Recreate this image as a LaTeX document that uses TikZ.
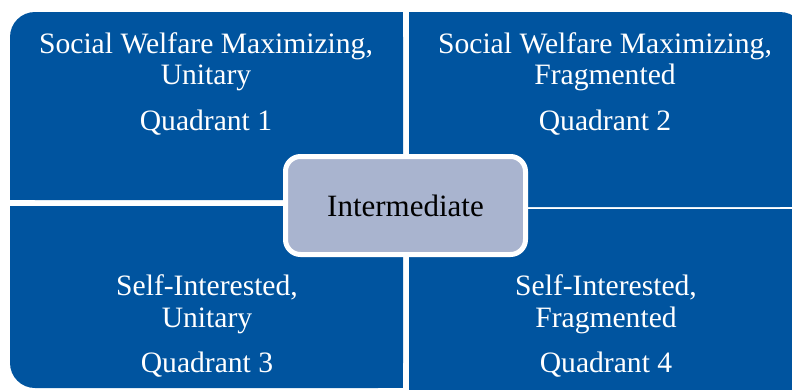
\documentclass[tikz,border=0pt]{standalone}
\usepackage{fontspec}
\setmainfont{Liberation Serif}
\definecolor{quadblue}{RGB}{0,84,159}
\definecolor{midfill}{RGB}{169,180,207}
\begin{document}
\begin{tikzpicture}[x=1pt,y=-1pt,
  quad/.style={fill=quadblue,draw=none,rounded corners=25pt},
  patch/.style={fill=quadblue,draw=none},
  qtext/.style={text=white,font=\fontsize{29.6}{31}\selectfont,align=center,anchor=base,inner sep=0pt},
  midbox/.style={fill=midfill,draw=white,line width=5pt,rounded corners=15pt,
    minimum width=240pt,minimum height=98pt,inner sep=0pt,font=\fontsize{31}{33}\selectfont,text=black}]
\useasboundingbox (0,0) rectangle (792,389);
\clip (0,0) rectangle (792,389);
% quadrant 1 (top-left corner rounded)
\path[quad] (10,12) rectangle (403,200);
\path[patch] (100,12) rectangle (403,200);
\path[patch] (10,100) rectangle (403,200);
% quadrant 2 (top-right corner rounded)
\path[quad] (409,12) rectangle (805,207);
\path[patch] (409,12) rectangle (700,207);
\path[patch] (409,100) rectangle (805,207);
% quadrant 3 (bottom-left corner rounded)
\path[quad] (10,206) rectangle (403,388);
\path[patch] (100,206) rectangle (403,388);
\path[patch] (10,206) rectangle (403,300);
% quadrant 4 (bottom-right corner rounded)
\path[quad] (409,209) rectangle (805,400);
\path[patch] (409,209) rectangle (700,400);
\path[patch] (409,209) rectangle (805,300);
% texts
\node[qtext] (q1a) at (206,53) {Social Welfare Maximizing,};
\node[qtext] (q1b) at (206,84) {Unitary};
\node[qtext] (q1c) at (206,130) {Quadrant 1};
\node[qtext] (q2a) at (605,53) {Social Welfare Maximizing,};
\node[qtext] (q2b) at (605,84) {Fragmented};
\node[qtext] (q2c) at (605,130) {Quadrant 2};
\node[qtext] (q3a) at (207,295) {Self-Interested,};
\node[qtext] (q3b) at (207,327) {Unitary};
\node[qtext] (q3c) at (207,372) {Quadrant 3};
\node[qtext] (q4a) at (606,295) {Self-Interested,};
\node[qtext] (q4b) at (606,327) {Fragmented};
\node[qtext] (q4c) at (606,372) {Quadrant 4};
% center
\node[midbox] (mid) at (405.5,205.5) {Intermediate};
\end{tikzpicture}
\end{document}
